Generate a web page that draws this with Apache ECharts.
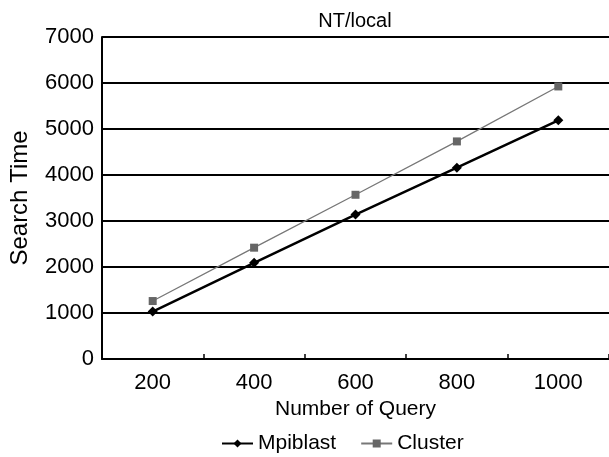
<!DOCTYPE html>
<html>
<head>
<meta charset="utf-8">
<script src="https://cdn.jsdelivr.net/npm/echarts@6/dist/echarts.min.js"></script>
<style>html,body{margin:0;padding:0;background:#fff}#c{width:609px;height:457px}</style>
</head>
<body>
<div id="c"></div>
<script>
var categories = ['200', '400', '600', '800', '1000'];
var mpiblast = [1030, 2090, 3140, 4160, 5190];
var cluster = [1260, 2420, 3570, 4730, 5925];
var yTicks = { min: 0, max: 7000, interval: 1000 };

var FONT = 'Liberation Sans';
var chart = echarts.init(document.getElementById('c'), null, { renderer: 'canvas' });
chart.setOption({
  backgroundColor: '#fff',
  animation: false,
  title: {
    text: 'NT/local', left: 350, top: 6, textAlign: 'center',
    textStyle: { fontFamily: FONT, fontSize: 20, fontWeight: 'normal', color: '#000' }
  },
  legend: {
    left: 216, top: 428, itemWidth: 31, itemHeight: 10, itemGap: 24,
    textStyle: { fontFamily: FONT, fontSize: 21, color: '#000' },
    data: ['Mpiblast', 'Cluster']
  },
  grid: { left: 97, right: -5, top: 37, bottom: 98, containLabel: false },
  xAxis: {
    type: 'category', data: categories, boundaryGap: true,
    name: 'Number of Query', nameLocation: 'middle', nameGap: 40,
    nameTextStyle: { fontFamily: FONT, fontSize: 21, color: '#000' },
    axisLine: { lineStyle: { color: '#000', width: 2 } },
    axisTick: { show: true, inside: true, length: 5, lineStyle: { color: '#000', width: 1.5 } },
    axisLabel: { fontFamily: FONT, fontSize: 22, color: '#000', margin: 13 },
    splitLine: { show: false }
  },
  yAxis: {
    type: 'value', min: yTicks.min, max: yTicks.max, interval: yTicks.interval,
    name: 'Search Time', nameLocation: 'middle', nameGap: 70, nameRotate: 90,
    nameTextStyle: { fontFamily: FONT, fontSize: 24, color: '#000' },
    axisLine: { show: true, lineStyle: { color: '#000', width: 2 } },
    axisTick: { show: false },
    axisLabel: { fontFamily: FONT, fontSize: 22, color: '#000', margin: 8,
      formatter: function (v) { return String(v); } },
    splitLine: { show: true, lineStyle: { color: '#000', width: 2 } }
  },
  series: [
    {
      name: 'Mpiblast', type: 'line', data: mpiblast,
      symbol: 'diamond', symbolSize: 10,
      lineStyle: { color: '#000', width: 2.5 },
      itemStyle: { color: '#000' }
    },
    {
      name: 'Cluster', type: 'line', data: cluster,
      symbol: 'rect', symbolSize: 8,
      lineStyle: { color: '#777', width: 1.3 },
      itemStyle: { color: '#666' }
    }
  ]
});
</script>
</body>
</html>
